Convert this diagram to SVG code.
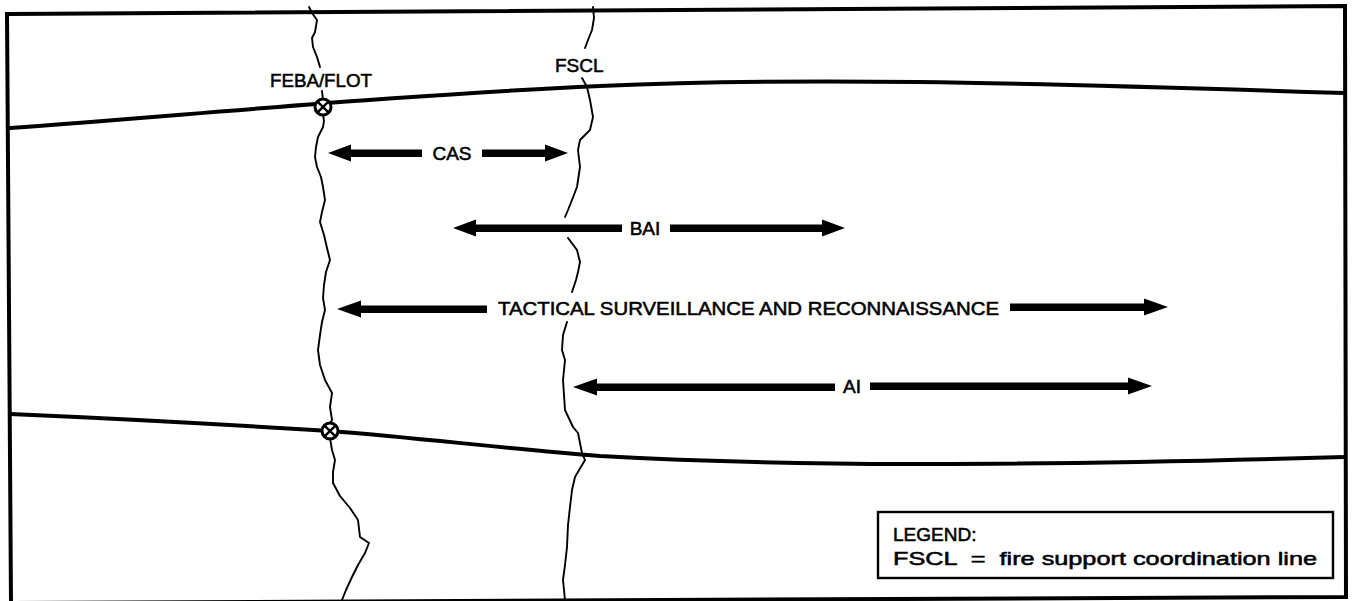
<svg xmlns="http://www.w3.org/2000/svg" width="1352" height="601" viewBox="0 0 1352 601">
  <style>
    .frame { fill: none; stroke: #000; stroke-width: 4; stroke-linejoin: miter; }
    .phase { fill: none; stroke: #000; stroke-width: 4; stroke-linecap: round; }
    .trace { fill: none; stroke: #000; stroke-width: 1.9; stroke-linejoin: round; stroke-linecap: round; }
    .mark { fill: #fff; stroke: #000; stroke-width: 3; }
    .arrow { fill: #000; stroke: none; }
    .lbl { font-family: "Liberation Sans", Arial, Helvetica, sans-serif; font-size: 19px; fill: #000; stroke: #000; stroke-width: 0.55; }
    .box { fill: #fff; stroke: #000; stroke-width: 2.4; }
  </style>
  <defs>
    <g id="xmark">
      <circle class="mark" cx="0" cy="0" r="8"/>
      <path d="M-5.2,-5.2 L5.2,5.2 M5.2,-5.2 L-5.2,5.2" stroke="#000" stroke-width="2.4"/>
    </g>
  </defs>

  <rect width="1352" height="601" fill="#fff"/>

  <!-- outer frame -->
  <path class="frame" d="M7,14 L1345,6 L1346,597 L11,603 Z"/>

  <!-- phase lines -->
  <g id="phase-lines">
    <path class="phase" d="M10,128 C200,114 400,95 600,86 C800,77 1000,82 1345,93"/>
    <path class="phase" d="M10,414 C150,420 250,426 330,431 C420,438 500,448 600,456 C780,466 1000,467 1345,457"/>
  </g>

  <!-- FEBA/FLOT trace -->
  <g id="feba-flot">
    <path class="trace" d="M309,7 L312,13 L317,20 L316,26 L315,32 L312,38 L313,47 L317,57 L320,67"/>
    <path class="trace" d="M322,91 L323,100"/>
    <path class="trace" d="M323,114 L324,121 L323,127 L318,137 L317,142 L316,147 L315,157 L317,167 L321,177 L323,187 L325,200 L322,212 L320,222 L324,235 L327,248 L330,260 L326,272 L324,285 L323,298 L325,310 L322,322 L320,335 L318,350 L320,365 L325,380 L332,393 L330,407 L332,420 L330,424"/>
    <path class="trace" d="M330,438 L332,450 L335,460 L333,472 L333,483 L340,496 L350,508 L358,520 L360,537 L369,543 L365,553 L358,565 L352,577 L346,590 L342,600"/>
    <use href="#xmark" x="323" y="107"/>
    <use href="#xmark" x="330" y="431"/>
    <text class="lbl" x="270" y="87" textLength="102" lengthAdjust="spacingAndGlyphs">FEBA/FLOT</text>
  </g>

  <!-- FSCL trace -->
  <g id="fscl">
    <path class="trace" d="M593,7 L594,18 L592,30 L588,40 L585,48"/>
    <path class="trace" d="M582,78 L587,87 L590,100 L593,117 L590,130 L580,140 L578,150 L580,167 L577,187 L572,200 L568,210 L565,217"/>
    <path class="trace" d="M568,238 L577,250 L580,262 L578,272 L576,280 L572,292"/>
    <path class="trace" d="M567,322 L563,335 L562,350 L565,360 L563,380 L564,395 L565,410 L573,427 L578,433 L580,443 L582,453 L585,460 L575,477 L572,490 L570,507 L568,525 L567,547 L565,565 L563,580 L565,600"/>
    <text class="lbl" x="555" y="72">FSCL</text>
  </g>

  <!-- mission span arrows -->
  <g id="connectors">
    <!-- CAS -->
    <path class="arrow" d="M328,153 L351,144.5 L351,149.5 L422,149.5 L422,157 L351,157 L351,161.5 Z"/>
    <path class="arrow" d="M568,153 L545,144.5 L545,149.5 L482,149.5 L482,157 L545,157 L545,161.5 Z"/>
    <!-- BAI -->
    <path class="arrow" d="M453,228 L476,219.5 L476,224.5 L622,224.5 L622,232 L476,232 L476,236.5 Z"/>
    <path class="arrow" d="M845,228 L822,219.5 L822,224.5 L670,224.5 L670,232 L822,232 L822,236.5 Z"/>
    <!-- tactical surveillance and reconnaissance -->
    <path class="arrow" d="M337,309 L361,300.5 L361,305.5 L487,305.5 L487,313 L361,313 L361,317.5 Z"/>
    <path class="arrow" d="M1168,307 L1144,298.5 L1144,303.5 L1010,303.5 L1010,311 L1144,311 L1144,315.5 Z"/>
    <!-- AI -->
    <path class="arrow" d="M573,387 L597,378.5 L597,383.5 L835,383.5 L835,391 L597,391 L597,395.5 Z"/>
    <path class="arrow" d="M1152,386 L1128,377.5 L1128,382.5 L870,382.5 L870,390 L1128,390 L1128,394.5 Z"/>
  </g>

  <g id="span-labels">
    <text class="lbl" x="452" y="160" text-anchor="middle">CAS</text>
    <text class="lbl" x="645" y="235" text-anchor="middle">BAI</text>
    <text class="lbl" x="498" y="315" textLength="501" lengthAdjust="spacingAndGlyphs">TACTICAL SURVEILLANCE AND RECONNAISSANCE</text>
    <text class="lbl" x="852" y="393" text-anchor="middle">AI</text>
  </g>

  <!-- legend -->
  <g id="legend">
    <rect class="box" x="878" y="512" width="455" height="66"/>
    <text class="lbl" x="893" y="541">LEGEND:</text>
    <text class="lbl" x="893" y="565" textLength="424" lengthAdjust="spacingAndGlyphs" xml:space="preserve">FSCL  =  fire support coordination line</text>
  </g>
</svg>
